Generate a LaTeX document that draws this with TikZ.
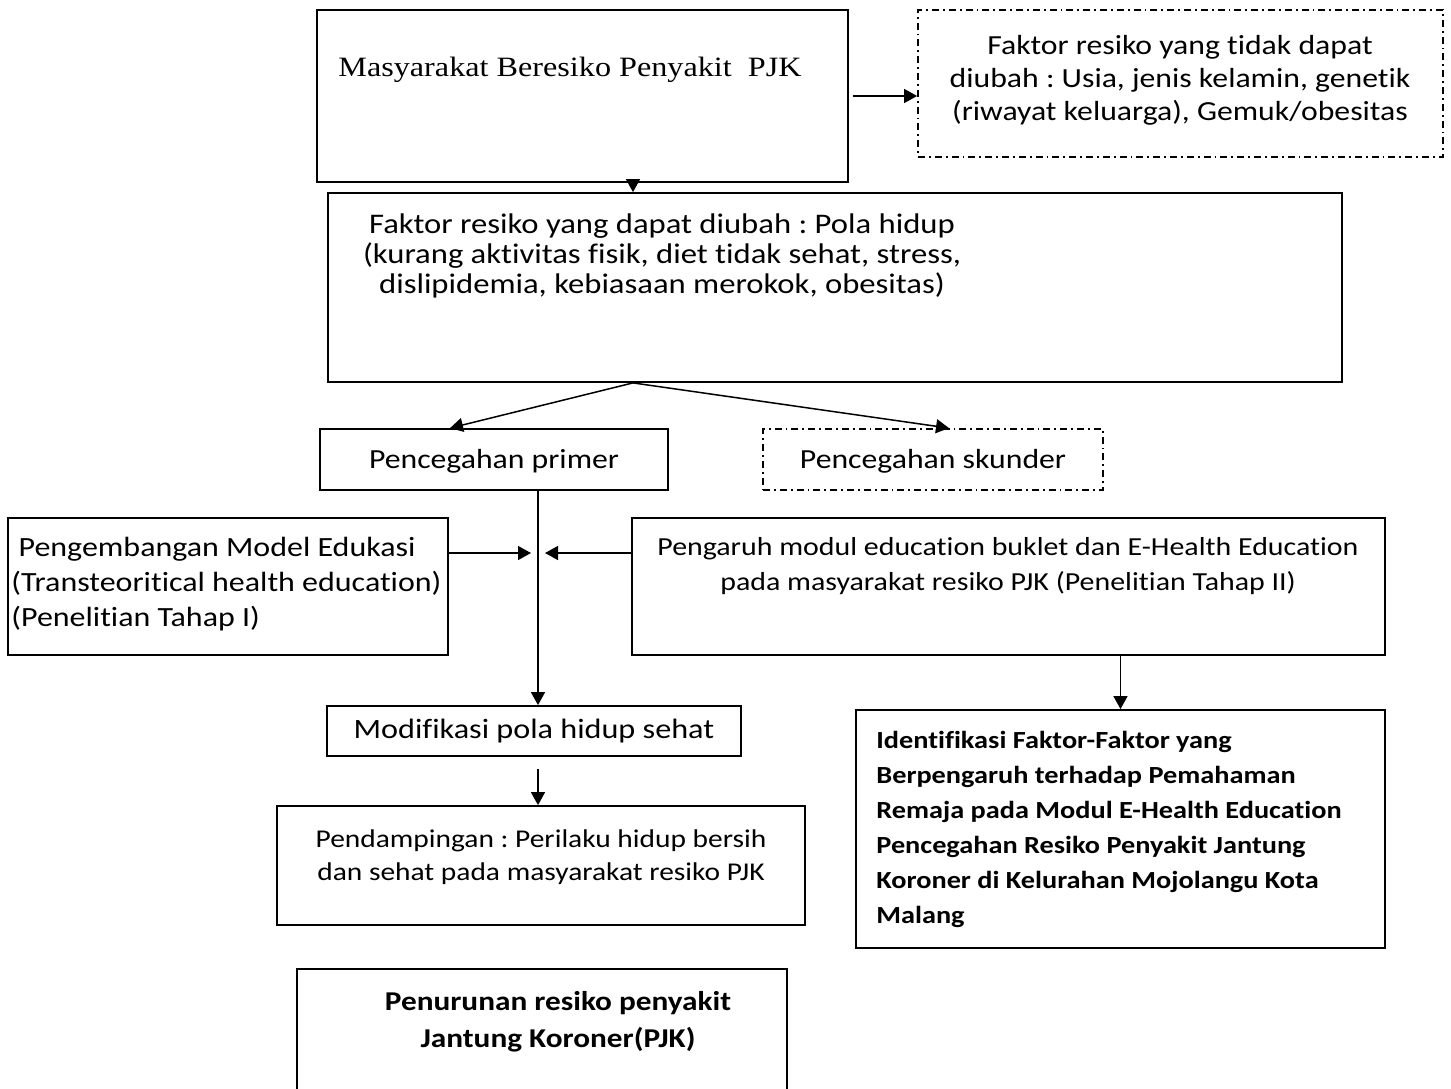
\documentclass[tikz,border=0pt]{standalone}
\usepackage{fontspec}
\setmainfont{Carlito}[FakeStretch=1.15, Ligatures=NoCommon]
\newfontfamily\timesfont{Liberation Serif}[FakeStretch=1.15]
\usetikzlibrary{arrows.meta, positioning, fit, calc}
\frenchspacing

\tikzset{
  box/.style={draw=black, line width=0.9pt, inner sep=0pt},
  dashbox/.style={box, dash pattern=on 3.5pt off 2pt on 0.9pt off 2pt},
  flow/.style={line width=0.75pt, -{Triangle[length=6.5pt, width=7pt]}},
  txt/.style={font=\fontsize{13.8}{16.5}\selectfont, align=center, inner sep=0pt},
  lefttxt/.style={txt, align=left, anchor=west},
}

\begin{document}
\begin{tikzpicture}[x=0.5pt, y=-0.5pt]
\useasboundingbox (0,0) rectangle (1451,1088);
\clip (0,0) rectangle (1451,1088);
% top row
\node[box, fit={(317,10) (848,182)}] (masyarakat) {};
\node[lefttxt, font=\timesfont\fontsize{14}{17}\selectfont] (masyarakatText) at (338,70) {Masyarakat Beresiko Penyakit\ \ PJK};
\node[dashbox, fit={(918,10) (1443,157)}] (tidakdiubah) {};
\node[txt] (tidakdiubahText) at (1180,80) {Faktor resiko yang tidak dapat\\diubah : Usia, jenis kelamin, genetik\\(riwayat keluarga), Gemuk/obesitas};
\node[box, fit={(328,193) (1342,382)}] (polahidup) {};
\node[txt, font=\fontsize{14.2}{14.8}\selectfont] (polahidupText) at (662,256) {Faktor resiko yang dapat diubah : Pola hidup\\(kurang aktivitas fisik, diet tidak sehat, stress,\\dislipidemia, kebiasaan merokok, obesitas)};
% prevention
\node[box, fit={(320,429) (668,490)}] (primer) {};
\node[txt] (primerText) at (494,461) {Pencegahan primer};
\node[dashbox, fit={(763,429) (1103,490)}] (skunder) {};
\node[txt] (skunderText) at (933,461) {Pencegahan skunder};
\node[box, fit={(8,518) (448,655)}] (edukasi) {};
\node[lefttxt, font=\fontsize{13.9}{17.5}\selectfont] (edukasiText) at (11,584) {\ Pengembangan Model Edukasi\\(Transteoritical health education)\\(Penelitian Tahap I)};
\node[box, fit={(632,518) (1385,655)}] (pengaruh) {};
\node[txt, font=\fontsize{13}{17.5}\selectfont] (pengaruhText) at (1008,566) {Pengaruh modul education buklet dan E-Health Education\\pada masyarakat resiko PJK (Penelitian Tahap II)};
% lower part
\node[box, fit={(327,706) (741,756)}] (modifikasi) {};
\node[txt, font=\fontsize{14}{16.5}\selectfont] (modifikasiText) at (534,731) {Modifikasi pola hidup sehat};
\node[box, fit={(856,710) (1385,948)}] (identifikasi) {};
\node[lefttxt, font=\fontsize{12.3}{17.5}\selectfont\bfseries] (identifikasiText) at (876,829) {Identifikasi Faktor-Faktor yang\\Berpengaruh terhadap Pemahaman\\Remaja pada Modul E-Health Education\\Pencegahan Resiko Penyakit Jantung\\Koroner di Kelurahan Mojolangu Kota\\Malang};
\node[box, fit={(277,806) (805,925)}] (pendampingan) {};
\node[txt, font=\fontsize{12.8}{16.5}\selectfont] (pendampinganText) at (541,857) {Pendampingan : Perilaku hidup bersih\\dan sehat pada masyarakat resiko PJK};
\node[box, fit={(297,969) (787,1100)}] (penurunan) {};
\node[txt, font=\fontsize{13.6}{18.5}\selectfont\bfseries] (penurunanText) at (558,1022) {Penurunan resiko penyakit\\Jantung Koroner(PJK)};

\coordinate (axis) at (633,0);
\coordinate (spine) at (538,0);
\coordinate (inL) at (531,553);
\coordinate (inR) at (545,553);

% connectors
\draw[flow, shorten <=2pt] (masyarakat.east) -- (masyarakat.east -| tidakdiubah.west);
\draw[flow] (masyarakat.south -| axis) -- (polahidup.north -| axis);
\draw[flow] (polahidup.south -| axis) -- ([xshift=-22pt]primer.north);
\draw[flow] (polahidup.south -| axis) -- ([xshift=8pt]skunder.north);
\draw[flow] (primer.south -| spine) -- (modifikasi.north -| spine);
\draw[flow] (edukasi.east |- inL) -- (inL);
\draw[flow] (pengaruh.west |- inR) -- (inR);
\draw[flow] (pengaruh.south -| identifikasi.north) -- (identifikasi.north);
\draw[flow, shorten <=6pt] (modifikasi.south -| spine) -- (pendampingan.north -| spine);
\end{tikzpicture}
\end{document}
